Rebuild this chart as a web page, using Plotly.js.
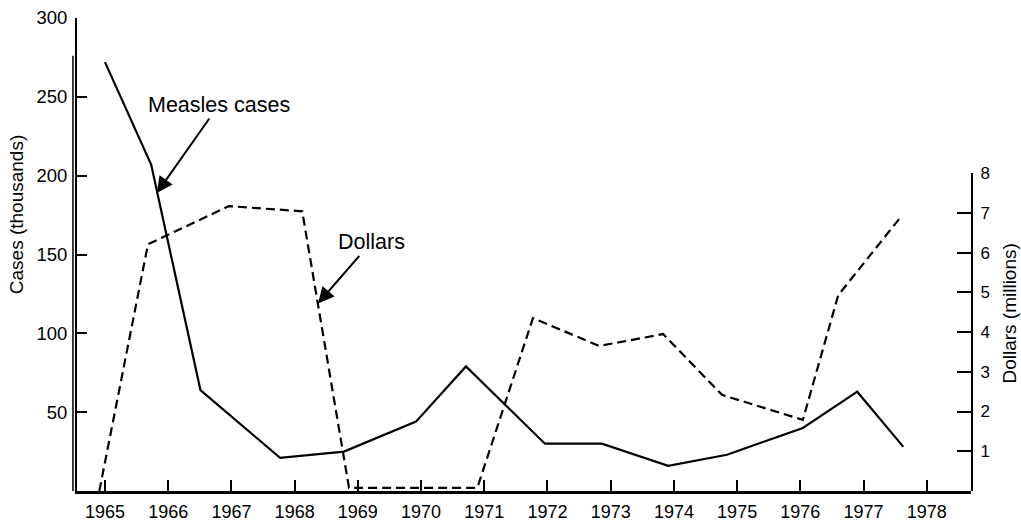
<!DOCTYPE html>
<html>
<head>
<meta charset="utf-8">
<script src="https://cdn.plot.ly/plotly-3.0.1.min.js"></script>
<style>html,body{margin:0;padding:0;background:#fff}#chart{width:1021px;height:521px}</style>
</head>
<body>
<div id="chart"></div>
<script>
// Measles cases (thousands)
const measlesYears = [1965.00, 1965.73, 1966.51, 1967.77, 1968.78, 1969.92, 1970.71, 1971.96, 1972.86, 1973.91, 1974.84, 1976.04, 1976.90, 1977.63];
const measlesCases = [272, 207, 64, 21, 25, 44, 79, 30, 30, 16, 23, 40, 63, 28];

// Federal dollars (millions)
const dollarYears = [1964.91, 1965.68, 1966.96, 1968.12, 1968.86, 1970.89, 1971.77, 1972.82, 1973.83, 1974.76, 1976.04, 1976.60, 1977.61];
const dollarValues = [0, 6.21, 7.17, 7.04, 0.08, 0.08, 4.35, 3.65, 3.95, 2.42, 1.79, 4.93, 6.94];

// Tick labels
const yearTicks = [1965, 1966, 1967, 1968, 1969, 1970, 1971, 1972, 1973, 1974, 1975, 1976, 1977, 1978];
const caseTicks = [50, 100, 150, 200, 250, 300];
const dollarTicks = [1, 2, 3, 4, 5, 6, 7, 8];

const FONT = 'Liberation Sans, Arial, Helvetica, sans-serif';

const traces = [
  {x: measlesYears, y: measlesCases, xaxis: 'x', yaxis: 'y', mode: 'lines',
   line: {color: '#000', width: 2.2}, hoverinfo: 'skip', showlegend: false},
  {x: dollarYears, y: dollarValues, xaxis: 'x', yaxis: 'y2', mode: 'lines',
   line: {color: '#000', width: 2.2, dash: '9px,5px'}, hoverinfo: 'skip', showlegend: false}
];

const layout = {
  width: 1021, height: 521,
  margin: {l: 77, r: 50, t: 18, b: 30},
  paper_bgcolor: '#fff', plot_bgcolor: 'rgba(0,0,0,0)',
  font: {family: FONT, color: '#000'},
  showlegend: false,
  xaxis: {
    range: [1964.557, 1978.70], anchor: 'y',
    tickvals: yearTicks, ticktext: yearTicks.map(String),
    ticks: 'inside', ticklen: 11, tickwidth: 2, tickcolor: '#000',
    showline: true, linewidth: 3, linecolor: '#000',
    showgrid: false, zeroline: false,
    tickfont: {size: 18, family: FONT, color: '#000'},
    ticklabelstandoff: 2
  },
  yaxis: {
    range: [0, 300], domain: [0, 1], anchor: 'x',
    tickvals: caseTicks, ticktext: caseTicks.map(String),
    ticks: 'inside', ticklen: 10, tickwidth: 2, tickcolor: '#000',
    showline: true, linewidth: 2, linecolor: '#000',
    showgrid: false, zeroline: false,
    tickfont: {size: 18.5, family: FONT, color: '#000'},
    ticklabelstandoff: 4
  },
  yaxis2: {
    range: [0, 8], domain: [0, 0.672], anchor: 'x', side: 'right',
    tickvals: dollarTicks, ticktext: dollarTicks.map(String),
    ticks: 'inside', ticklen: 14, tickwidth: 2, tickcolor: '#000',
    showline: true, linewidth: 2, linecolor: '#000',
    showgrid: false, zeroline: false,
    tickfont: {size: 17, family: FONT, color: '#000'},
    ticklabelstandoff: 4
  },
  shapes: [
    {type: 'line', xref: 'paper', yref: 'paper', x0: -0.0045, x1: -0.0045, y0: 0, y1: 0.92,
     line: {color: '#000', width: 1.5}}
  ],
  annotations: [
    {text: 'Measles cases', xref: 'x', yref: 'y', x: 1965.82, y: 189,
     ax: 62, ay: -88, showarrow: true, arrowhead: 2, arrowsize: 1.6, arrowwidth: 2, arrowcolor: '#000',
     font: {size: 21.5, family: FONT, color: '#000'}},
    {text: 'Dollars', xref: 'x', yref: 'y', x: 1968.37, y: 119,
     ax: 53, ay: -61, showarrow: true, arrowhead: 2, arrowsize: 1.6, arrowwidth: 2, arrowcolor: '#000',
     font: {size: 21.5, family: FONT, color: '#000'}},
    {text: 'Cases (thousands)', xref: 'paper', yref: 'paper', x: -0.068, y: 0.5835,
     showarrow: false, textangle: -90, xanchor: 'center', yanchor: 'middle',
     font: {size: 19, family: FONT, color: '#000'}},
    {text: 'Dollars (millions)', xref: 'paper', yref: 'paper', x: 1.043, y: 0.376,
     showarrow: false, textangle: -90, xanchor: 'center', yanchor: 'middle',
     font: {size: 19, family: FONT, color: '#000'}}
  ]
};

Plotly.newPlot('chart', traces, layout, {displayModeBar: false, staticPlot: true});
</script>
</body>
</html>
